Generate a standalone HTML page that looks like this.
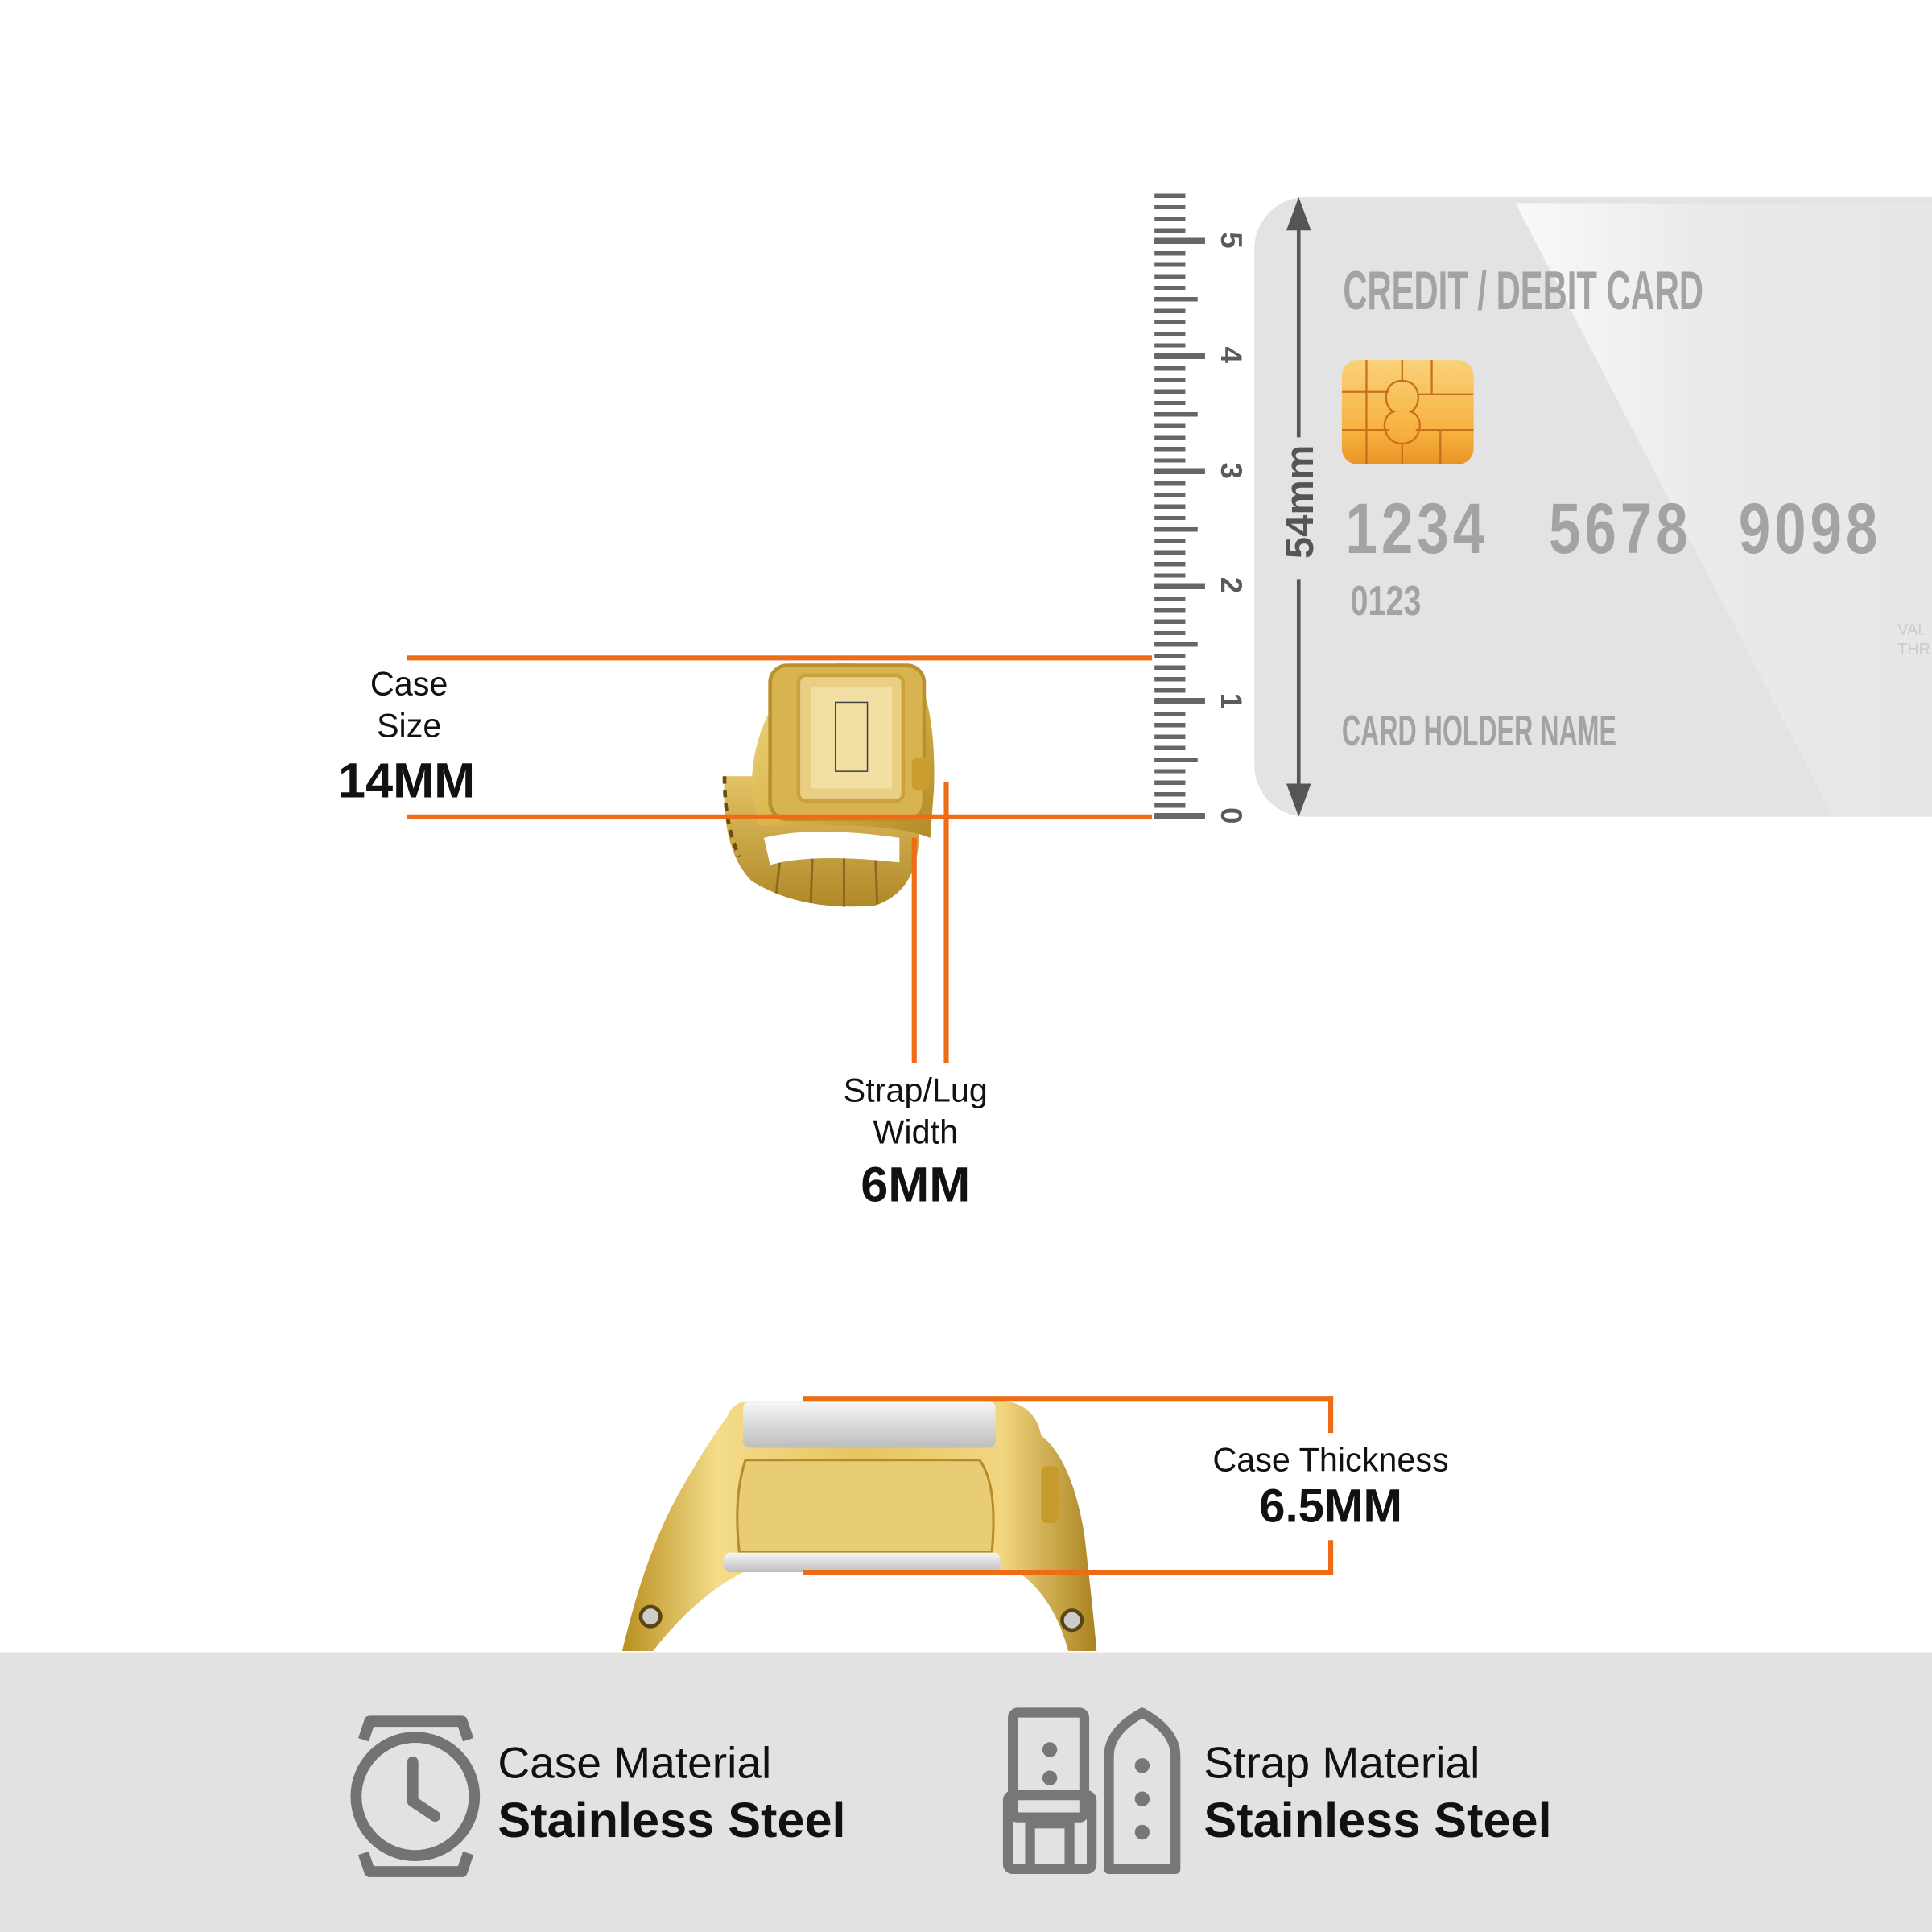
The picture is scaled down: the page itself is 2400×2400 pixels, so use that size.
<!DOCTYPE html>
<html><head><meta charset="utf-8"><style>
html,body{margin:0;padding:0;background:#fff;}
body{width:2400px;height:2400px;overflow:hidden;position:relative;}
#w{position:absolute;left:0;top:0;width:1568px;height:1568px;transform:scale(1.530612);transform-origin:0 0;font-family:"Liberation Sans",sans-serif;}
.a{position:absolute;}
.or{position:absolute;background:#ee6c16;}
.t{position:absolute;white-space:nowrap;text-align:center;}
.cd{position:absolute;white-space:nowrap;color:#a3a3a3;font-family:"Liberation Sans Narrow","Liberation Sans",sans-serif;font-weight:bold;transform-origin:0 0;}
.rl{position:absolute;font:bold 24px "Liberation Sans",sans-serif;color:#5a5a5a;transform:rotate(90deg);width:30px;text-align:center;}
</style></head><body><div id="w">

<div class="a" style="left:1018px;top:160px;width:600px;height:503px;background:#e3e3e3;border-radius:42px 0 0 42px;overflow:hidden;">
<svg width="600" height="503" style="position:absolute;left:0;top:0"><defs><linearGradient id="hl" x1="0" y1="0" x2="1" y2="0"><stop offset="0" stop-color="#fff" stop-opacity=".8"/><stop offset=".4" stop-color="#fff" stop-opacity=".25"/><stop offset="1" stop-color="#fff" stop-opacity=".1"/></linearGradient></defs>
<polygon points="212,5 600,5 600,503 470,503" fill="url(#hl)"/></svg>
</div>
<svg class="a" style="left:1030px;top:155px" width="50" height="515">
<line x1="24" y1="20" x2="24" y2="200" stroke="#555" stroke-width="3"/>
<line x1="24" y1="315" x2="24" y2="490" stroke="#555" stroke-width="3"/>
<polygon points="24,5 14,32 34,32" fill="#555"/><polygon points="24,508 14,481 34,481" fill="#555"/>
</svg>
<div class="t" style="left:1010px;top:390px;width:90px;font:bold 32px 'Liberation Sans',sans-serif;color:#555;transform:rotate(-90deg);">54mm</div>

<div class="cd" style="left:1090px;top:212px;font-size:44px;transform:scaleX(.62);">CREDIT / DEBIT CARD</div>
<div class="a" style="left:1089px;top:292px;width:107px;height:85px;border-radius:13px;background:linear-gradient(#f9d27a,#f7b03e 70%,#e89528);overflow:hidden;">
<svg width="107" height="85"><g stroke="#c9701a" stroke-width="1.5" fill="none"><line x1="20" y1="0" x2="20" y2="85"/><line x1="49" y1="0" x2="49" y2="18"/><line x1="73" y1="0" x2="73" y2="28"/><line x1="0" y1="26" x2="38" y2="26"/><line x1="62" y1="28" x2="107" y2="28"/><line x1="0" y1="57" x2="38" y2="57"/><line x1="60" y1="57" x2="107" y2="57"/><line x1="49" y1="68" x2="49" y2="85"/><line x1="80" y1="57" x2="80" y2="85"/><path d="M49 17 C33 17 33 38 42 42 C30 46 33 68 49 68 C65 68 68 46 56 42 C65 38 65 17 49 17Z"/></g></svg></div>
<div class="cd" style="left:1092px;top:396px;font-size:58px;transform:scaleX(.8);letter-spacing:4px;">1234</div>
<div class="cd" style="left:1257px;top:396px;font-size:58px;transform:scaleX(.8);letter-spacing:4px;">5678</div>
<div class="cd" style="left:1411px;top:396px;font-size:58px;transform:scaleX(.8);letter-spacing:4px;">9098</div>
<div class="cd" style="left:1096px;top:469px;font-size:34px;transform:scaleX(.76);">0123</div>
<div class="cd" style="left:1089px;top:574px;font-size:35px;transform:scaleX(.6);">CARD HOLDER NAME</div>
<div class="cd" style="left:1540px;top:503px;font-size:13px;font-weight:normal;color:#ccc;line-height:16px;">VAL<br>THR</div>

<div class="a" style="left:937px;top:157px;width:25px;height:508px;background:repeating-linear-gradient(to top,#666 0 3.5px,transparent 3.5px 9.34px);"></div>
<div class="a" style="left:937px;top:157px;width:35px;height:508px;background:repeating-linear-gradient(to top,#666 0 3.5px,transparent 3.5px 46.7px);"></div>
<div class="a" style="left:937px;top:157px;width:41px;height:508px;background:repeating-linear-gradient(to top,#666 0 5px,transparent 5px 93.4px);"></div>
<div class="rl" style="left:983px;top:648px;">0</div>
<div class="rl" style="left:983px;top:555px;">1</div>
<div class="rl" style="left:983px;top:461px;">2</div>
<div class="rl" style="left:983px;top:368px;">3</div>
<div class="rl" style="left:983px;top:274px;">4</div>
<div class="rl" style="left:983px;top:181px;">5</div>

<svg class="a" style="left:580px;top:530px" width="200" height="215">
<defs><linearGradient id="g1" x1="0" y1="0" x2="1" y2="1"><stop offset="0" stop-color="#f3dc8c"/><stop offset=".5" stop-color="#d9b54c"/><stop offset="1" stop-color="#b38a26"/></linearGradient>
<linearGradient id="g2" x1="0" y1="0" x2="0" y2="1"><stop offset="0" stop-color="#e2c265"/><stop offset="1" stop-color="#b08828"/></linearGradient></defs>
<path d="M8 100 Q5 160 30 185 Q70 210 130 205 Q160 195 165 160 L170 100 Z" fill="url(#g2)"/>
<path d="M8 100 Q8 140 20 165" stroke="#6b4d10" stroke-width="3" fill="none" stroke-dasharray="6 5"/>
<g stroke="#8a6a1c" stroke-width="2"><line x1="55" y1="150" x2="50" y2="195"/><line x1="80" y1="148" x2="78" y2="203"/><line x1="105" y1="148" x2="105" y2="206"/><line x1="130" y1="150" x2="132" y2="204"/></g>
<path d="M40 150 Q80 140 150 150 L150 170 Q80 162 45 172 Z" fill="#fff"/>
<path d="M30 110 Q30 60 60 25 L100 8 L160 10 Q180 40 178 110 L175 150 Q150 140 100 140 Q60 140 35 140 Z" fill="url(#g1)"/>
<rect x="45" y="10" width="125" height="125" rx="14" fill="#d8b450" stroke="#b8902e" stroke-width="3"/>
<rect x="68" y="18" width="85" height="102" rx="6" fill="#e8cf83" stroke="#c9a23d" stroke-width="3"/>
<rect x="78" y="28" width="66" height="82" fill="#f1dfa3"/>
<rect x="98" y="40" width="26" height="56" fill="none" stroke="#444" stroke-width="1"/>
<rect x="160" y="85" width="14" height="26" rx="4" fill="#c99d30"/>
</svg>

<div class="or" style="left:330px;top:532px;width:605px;height:4px;"></div>
<div class="or" style="left:330px;top:661px;width:605px;height:4px;"></div>
<div class="or" style="left:740px;top:680px;width:4px;height:183px;"></div>
<div class="or" style="left:766px;top:635px;width:4px;height:228px;"></div>

<div class="t" style="left:232px;top:538px;width:200px;font-size:27px;line-height:34px;color:#111;">Case<br>Size</div>
<div class="t" style="left:230px;top:612px;width:200px;font-size:40px;font-weight:bold;color:#111;">14MM</div>
<div class="t" style="left:643px;top:868px;width:200px;font-size:27px;line-height:34px;color:#111;">Strap/Lug<br>Width</div>
<div class="t" style="left:643px;top:940px;width:200px;font-size:40px;font-weight:bold;color:#111;">6MM</div>

<svg class="a" style="left:495px;top:1125px" width="420" height="220">
<defs><linearGradient id="g3" x1="0" y1="0" x2="1" y2="0"><stop offset="0" stop-color="#b8901f"/><stop offset=".2" stop-color="#f4dc8a"/><stop offset=".5" stop-color="#e6c561"/><stop offset=".8" stop-color="#f2d680"/><stop offset="1" stop-color="#a98220"/></linearGradient>
<linearGradient id="g4" x1="0" y1="0" x2="0" y2="1"><stop offset="0" stop-color="#f7f7f7"/><stop offset="1" stop-color="#bdbdbd"/></linearGradient></defs>
<path d="M95 25 Q100 10 120 12 L320 12 Q345 15 350 40 Q375 60 385 120 Q392 180 395 215 L372 215 Q360 170 330 150 L110 150 Q70 170 35 215 L10 215 Q30 130 60 80 Q80 45 95 25 Z" fill="url(#g3)"/>
<rect x="108" y="12" width="205" height="38" rx="6" fill="url(#g4)"/>
<path d="M110 60 L300 60 Q315 80 310 135 L105 135 Q100 90 110 60Z" fill="#e9cd74" stroke="#b58e2a" stroke-width="2"/>
<rect x="92" y="135" width="225" height="16" rx="6" fill="url(#g4)"/>
<rect x="350" y="65" width="14" height="46" rx="4" fill="#c79a2c"/>
<circle cx="33" cy="187" r="8" fill="#ccc" stroke="#5a4512" stroke-width="3"/>
<circle cx="375" cy="190" r="8" fill="#ccc" stroke="#5a4512" stroke-width="3"/>
</svg>
<div class="or" style="left:652px;top:1133px;width:430px;height:4px;"></div>
<div class="or" style="left:1078px;top:1133px;width:4px;height:30px;"></div>
<div class="or" style="left:652px;top:1274px;width:430px;height:4px;"></div>
<div class="or" style="left:1078px;top:1250px;width:4px;height:28px;"></div>
<div class="t" style="left:930px;top:1170px;width:300px;font-size:27px;color:#111;">Case Thickness</div>
<div class="t" style="left:930px;top:1202px;width:300px;font-size:38px;font-weight:bold;color:#111;">6.5MM</div>

<div class="a" style="left:0;top:1341px;width:1568px;height:227px;background:#e2e2e2;"></div>
<svg class="a" style="left:280px;top:1392px" width="115" height="132">
<g fill="none" stroke="#737373" stroke-width="9" stroke-linejoin="round">
<path d="M15 20 L20 5 L95 5 L100 20"/><path d="M15 112 L20 127 L95 127 L100 112"/>
<circle cx="57" cy="66" r="48"/><polyline points="55,38 55,70 73,82" stroke-linecap="round"/></g></svg>
<div class="a" style="left:404px;top:1410px;font-size:36px;color:#111;">Case Material</div>
<div class="a" style="left:404px;top:1456px;font-size:40px;font-weight:bold;color:#111;">Stainless Steel</div>
<svg class="a" style="left:812px;top:1385px" width="150" height="140">
<g fill="none" stroke="#777" stroke-width="8" stroke-linejoin="round">
<rect x="10" y="5" width="58" height="85" rx="4"/><rect x="6" y="72" width="68" height="60" rx="4"/>
<polyline points="24,132 24,95 56,95 56,132"/>
<path d="M88 132 L88 40 Q88 20 115 5 Q142 20 142 40 L142 132 Z"/></g>
<g fill="#777"><circle cx="40" cy="35" r="6"/><circle cx="40" cy="58" r="6"/><circle cx="115" cy="48" r="6"/><circle cx="115" cy="75" r="6"/><circle cx="115" cy="102" r="6"/></g></svg>
<div class="a" style="left:977px;top:1410px;font-size:36px;color:#111;">Strap Material</div>
<div class="a" style="left:977px;top:1456px;font-size:40px;font-weight:bold;color:#111;">Stainless Steel</div>

</div></body></html>
